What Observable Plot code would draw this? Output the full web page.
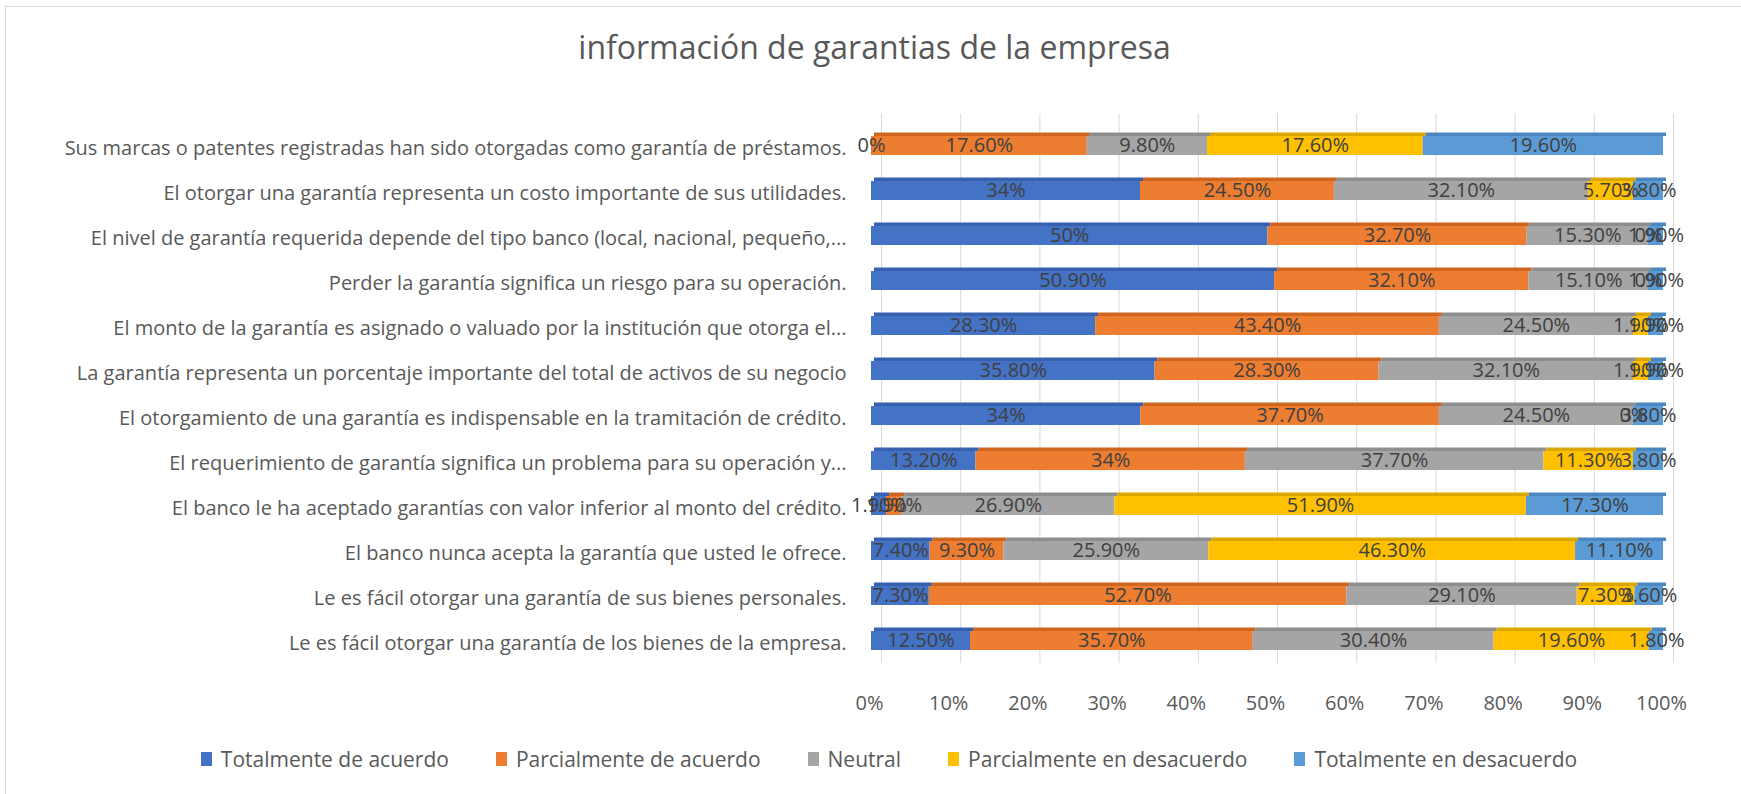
<!DOCTYPE html>
<html><head><meta charset="utf-8">
<script src="https://cdn.jsdelivr.net/npm/d3@7"></script>
<script src="https://cdn.jsdelivr.net/npm/@observablehq/plot@0.6"></script>
<style>
html,body{margin:0;padding:0;background:#fff;}
#page{position:relative;width:1741px;height:794px;overflow:hidden;font-family:"Open Sans",sans-serif;background:#fff;}
#frame{position:absolute;left:5px;top:6px;width:1800px;height:900px;border-left:1px solid #d9d9d9;border-top:1px solid #d9d9d9;}
#chart{position:absolute;left:0;top:0;}
#title{position:absolute;left:0;width:1749px;top:27px;text-align:center;font-size:32px;color:#595959;line-height:40px;white-space:nowrap;}
#legend{position:absolute;left:0;width:1778px;top:744px;display:flex;justify-content:center;gap:47px;font-size:21px;color:#595959;line-height:30px;white-space:nowrap;}
.item{display:flex;align-items:center;}
.sw{width:11px;height:14px;margin-right:9px;display:inline-block;}
</style></head><body>
<div id="page"><div id="frame"></div><div id="chart"></div><div id="title">información de garantias de la empresa</div><div id="legend"></div></div>
<script>
const categories = [
  "Sus marcas o patentes registradas han sido otorgadas como garantía de préstamos.",
  "El otorgar una garantía representa un costo importante de sus utilidades.",
  "El nivel de garantía requerida depende del tipo banco (local, nacional, pequeño,...",
  "Perder la garantía significa un riesgo para su operación.",
  "El monto de la garantía es asignado o valuado por la institución que otorga el...",
  "La garantía representa un porcentaje importante del total de activos de su negocio",
  "El otorgamiento de una garantía es indispensable en la tramitación de crédito.",
  "El requerimiento de garantía significa un problema para su operación y...",
  "El banco le ha aceptado garantías con valor inferior al monto del crédito.",
  "El banco nunca acepta la garantía que usted le ofrece.",
  "Le es fácil otorgar una garantía de sus bienes personales.",
  "Le es fácil otorgar una garantía de los bienes de la empresa."
];
const seriesNames = ["Totalmente de acuerdo","Parcialmente de acuerdo","Neutral","Parcialmente en desacuerdo","Totalmente en desacuerdo"];
const totalmenteDeAcuerdo     = [0, 34, 50, 50.9, 28.3, 35.8, 34, 13.2, 1.9, 7.4, 7.3, 12.5];
const parcialmenteDeAcuerdo   = [17.6, 24.5, 32.7, 32.1, 43.4, 28.3, 37.7, 34, 1.9, 9.3, 52.7, 35.7];
const neutral                 = [9.8, 32.1, 15.3, 15.1, 24.5, 32.1, 24.5, 37.7, 26.9, 25.9, 29.1, 30.4];
const parcialmenteDesacuerdo  = [17.6, 5.7, 0, 0, 1.9, 1.9, 0, 11.3, 51.9, 46.3, 7.3, 19.6];
const totalmenteDesacuerdo    = [19.6, 3.8, 1.9, 1.9, 1.9, 1.9, 3.8, 3.8, 17.3, 11.1, 3.6, 1.8];
const xTicks = [0, 0.1, 0.2, 0.3, 0.4, 0.5, 0.6, 0.7, 0.8, 0.9, 1];
const frontColors = ["#4472C4","#ED7D31","#A5A5A5","#FFC000","#5B9BD5"];
const topColors   = ["#3761ae","#cf661f","#8e8e8e","#dca600","#4a87c0"];

const seriesValues = [totalmenteDeAcuerdo, parcialmenteDeAcuerdo, neutral, parcialmenteDesacuerdo, totalmenteDesacuerdo];
const data = categories.flatMap((c, i) => seriesNames.map((s, j) => ({category: c, series: s, idx: j, value: seriesValues[j][i]})));
const fmt = v => (Number.isInteger(v) ? String(v) : v.toFixed(2)) + "%";

const W = 1741, H = 720, mT = 118.5, mB = H - 668, mL = 871, mR = W - 1663;
const yOpts = {domain: categories, paddingInner: 0.573, paddingOuter: 0.3, align: 0.5, label: null};
const xOpts = {domain: [0, 1], label: null};
const base = {width: W, height: H, marginTop: mT, marginBottom: mB, marginLeft: mL, marginRight: mR};

const probe = Plot.plot({...base, x: xOpts, y: yOpts, marks: [Plot.barX(data, Plot.stackX({x: "value", y: "category", offset: "normalize"}))]});
const bw = probe.scale("y").bandwidth;

const stackOpts = extra => Plot.stackX({x: "value", y: "category", z: "series", offset: "normalize", ...extra});

const chart = Plot.plot({
  ...base,
  x: xOpts,
  y: yOpts,
  color: {type: "identity"},
  style: {fontFamily: "'Open Sans', sans-serif", fontSize: "20px", color: "#595959", background: "transparent"},
  marks: [
    Plot.ruleX(xTicks, {stroke: "#d9d9d9", strokeWidth: 1, dx: 10, dy: -5}),
    Plot.barX(data, stackOpts({fill: d => topColors[d.idx], insetBottom: bw - 3.5, dy: -3.5, dx: 3})),
    Plot.barX(data, stackOpts({fill: d => frontColors[d.idx]})),
    Plot.text(data, stackOpts({text: d => fmt(d.value), fill: "#404040", fontSize: 20})),
    Plot.axisY({tickSize: 0, tickPadding: 25, fontSize: 20, dy: 3, lineWidth: Infinity}),
    Plot.axisX({ticks: xTicks, tickFormat: d3.format(".0%"), tickSize: 0, tickPadding: 27, fontSize: 20, dx: -2})
  ]
});
document.getElementById("chart").appendChild(chart);

const legend = document.getElementById("legend");
seriesNames.forEach((s, j) => {
  const it = document.createElement("div");
  it.className = "item";
  const sw = document.createElement("span");
  sw.className = "sw";
  sw.style.background = frontColors[j];
  it.appendChild(sw);
  it.appendChild(document.createTextNode(s));
  legend.appendChild(it);
});
</script>
</body></html>
